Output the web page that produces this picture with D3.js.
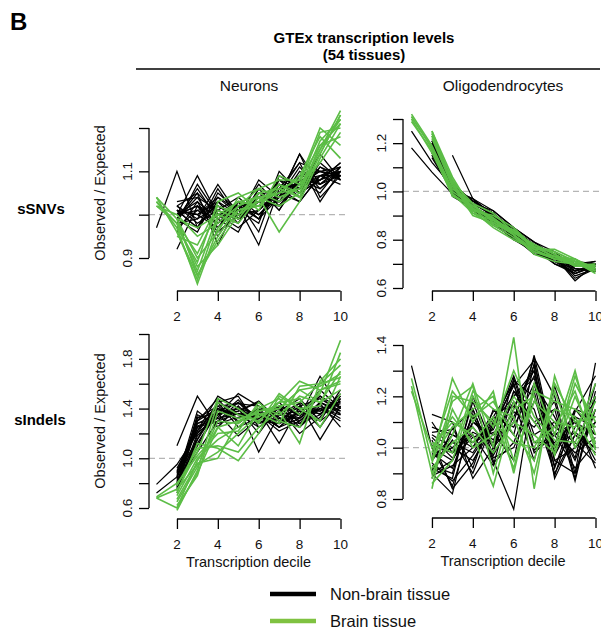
<!DOCTYPE html>
<html><head><meta charset="utf-8">
<script src="https://cdn.jsdelivr.net/npm/d3@7"></script>
<style>html,body{margin:0;padding:0;background:#fff;}svg{display:block;}</style>
</head><body>
<script>
const deciles = [1,2,3,4,5,6,7,8,9,10];
const xTickValues = [2,4,6,8,10];
const rowLabels = ["sSNVs","sIndels"];
const colLabels = ["Neurons","Oligodendrocytes"];
const legendLabels = ["Non-brain tissue","Brain tissue"];

// sSNVs, neurons
const snvNeuronsOther = [
[0.97,1.10,0.97,1.04,1.00,1.03,1.06,1.12,1.10,1.11],
[null,1.00,1.09,1.00,1.02,0.99,1.07,1.05,1.08,1.10],
[null,1.01,0.97,1.06,0.99,1.08,1.04,1.14,1.07,1.09],
[null,0.99,1.05,0.93,1.03,0.96,1.09,1.06,1.14,1.08],
[null,1.00,1.02,0.98,1.01,1.03,1.02,1.08,1.06,1.10],
[null,0.98,1.07,1.00,0.97,1.01,1.05,1.03,1.09,1.09],
[null,1.02,0.99,1.07,1.00,1.05,1.03,1.10,1.07,1.11],
[null,0.96,1.03,0.99,1.02,0.93,1.06,1.07,1.10,1.08],
[null,1.01,1.00,1.03,0.98,1.06,1.01,1.09,1.08,1.12],
[null,0.99,0.96,1.05,1.01,1.02,1.08,1.04,1.11,1.09],
[null,1.03,1.04,0.97,1.03,0.99,1.04,1.11,1.06,1.10],
[null,1.00,1.01,1.02,0.99,1.04,1.07,1.06,1.09,1.07],
[null,0.92,1.02,0.96,1.00,1.07,1.02,1.08,1.05,1.11],
[null,1.02,0.98,1.01,1.04,1.00,1.05,1.09,1.10,1.09],
[null,0.99,1.06,0.99,0.96,1.05,1.03,1.07,1.08,1.10],
[null,1.01,1.00,1.04,1.01,0.98,1.10,1.05,1.12,1.08],
[null,1.00,1.03,0.95,1.02,1.03,1.04,1.14,1.04,1.09],
[null,0.98,0.99,1.02,1.00,1.01,1.06,1.03,1.09,1.11],
[null,1.02,1.05,1.00,0.98,1.06,1.01,1.08,1.07,1.10],
[null,0.97,1.01,0.98,1.03,0.99,1.08,1.06,1.11,1.08],
[null,1.01,0.97,1.03,1.00,1.04,1.05,1.12,1.03,1.10],
[null,1.00,1.02,1.00,1.01,1.02,1.03,1.07,1.10,1.09],
[null,0.99,1.04,1.01,0.99,1.03,1.07,1.05,1.08,1.12],
[null,1.01,1.00,0.97,1.02,1.00,1.04,1.08,1.09,1.10]
];
const snvNeuronsBrain = [
[1.04,0.99,0.86,0.95,1.02,1.04,1.05,1.06,1.17,1.22],
[1.03,0.97,0.84,0.97,1.01,1.03,1.07,1.05,1.15,1.24],
[1.02,0.98,0.88,0.93,1.00,1.05,1.03,1.07,1.19,1.20],
[null,0.96,0.85,0.99,1.03,1.02,1.06,1.04,1.14,1.23],
[null,0.99,0.90,0.96,1.04,1.06,1.08,1.08,1.16,1.18],
[1.03,0.98,0.87,1.00,0.98,1.04,0.96,1.03,1.13,1.21],
[null,0.95,0.93,1.02,1.00,1.03,1.05,1.09,1.18,1.13],
[null,0.97,0.89,1.03,1.05,1.01,1.09,1.07,1.12,1.19],
[1.02,1.00,0.95,0.98,1.02,1.06,1.04,1.06,1.15,1.22],
[null,0.98,0.91,1.01,0.99,1.05,1.06,1.08,1.20,1.16],
[1.04,0.96,0.86,0.94,1.01,1.02,1.07,1.04,1.14,1.23],
[null,0.99,0.97,1.00,1.03,1.04,1.02,1.05,1.16,1.21]
];
// sSNVs, oligodendrocytes
const snvOligoOther = [
[1.25,1.12,1.02,0.95,0.90,0.83,0.77,0.73,0.69,0.69],
[1.18,1.08,0.99,0.93,0.88,0.81,0.76,0.72,0.67,0.70],
[null,1.20,1.03,0.96,0.91,0.84,0.78,0.74,0.70,0.68],
[null,1.17,1.01,0.94,0.89,0.82,0.76,0.72,0.66,0.69],
[null,null,1.15,0.97,0.92,0.85,0.79,0.73,0.71,0.70],
[null,1.19,1.04,0.95,0.90,0.83,0.77,0.71,0.68,0.67],
[null,1.15,1.00,0.92,0.87,0.80,0.75,0.73,0.64,0.68],
[null,1.21,1.02,0.96,0.91,0.82,0.78,0.74,0.69,0.71],
[null,1.16,0.99,0.94,0.88,0.84,0.76,0.70,0.67,0.69],
[null,1.18,1.03,0.93,0.90,0.81,0.74,0.72,0.70,0.68],
[null,1.20,1.01,0.97,0.89,0.83,0.77,0.73,0.63,0.70],
[null,1.14,1.00,0.95,0.92,0.85,0.79,0.75,0.68,0.67],
[null,1.19,1.04,0.94,0.87,0.82,0.75,0.71,0.66,0.69],
[null,1.17,1.02,0.96,0.90,0.80,0.77,0.72,0.71,0.68],
[null,1.21,0.98,0.93,0.89,0.84,0.78,0.74,0.67,0.70],
[null,1.16,1.03,0.95,0.91,0.83,0.76,0.71,0.69,0.69],
[null,1.18,1.01,0.92,0.88,0.82,0.74,0.73,0.65,0.68],
[null,1.20,1.00,0.97,0.90,0.85,0.77,0.72,0.70,0.71],
[null,1.15,1.02,0.94,0.86,0.81,0.75,0.74,0.68,0.67],
[null,1.19,0.99,0.96,0.91,0.83,0.78,0.70,0.66,0.70]
];
const snvOligoBrain = [
[1.31,1.18,1.00,0.94,0.88,0.84,0.77,0.73,0.71,0.68],
[1.30,1.16,0.99,0.93,0.89,0.82,0.76,0.72,0.72,0.67],
[1.32,1.19,1.01,0.95,0.87,0.83,0.78,0.74,0.70,0.69],
[null,1.25,1.06,0.92,0.90,0.85,0.77,0.75,0.71,0.68],
[null,1.24,1.04,0.91,0.86,0.81,0.75,0.73,0.69,0.70],
[null,1.23,1.05,0.93,0.88,0.84,0.76,0.76,0.72,0.67],
[null,1.25,1.03,0.90,0.87,0.82,0.74,0.71,0.70,0.68],
[1.29,1.17,0.98,0.94,0.89,0.83,0.78,0.74,0.69,0.69],
[null,1.22,1.02,0.92,0.85,0.80,0.76,0.72,0.71,0.66],
[null,1.24,1.04,0.95,0.91,0.83,0.77,0.73,0.72,0.68],
[1.31,1.18,0.99,0.91,0.88,0.82,0.75,0.72,0.70,0.67],
[null,1.23,1.03,0.93,0.86,0.84,0.77,0.75,0.71,0.69]
];
// sIndels, neurons
const indelNeuronsOther = [
[0.79,0.95,1.20,1.35,1.40,1.30,1.28,1.35,1.40,1.45],
[0.72,0.85,1.25,1.30,1.36,1.35,1.22,1.30,1.45,1.38],
[null,1.10,1.50,1.25,1.42,1.28,1.32,1.28,1.35,1.50],
[null,0.80,1.30,1.40,1.32,1.40,1.25,1.38,1.30,1.42],
[null,0.75,1.15,1.45,1.50,1.25,1.35,1.32,1.50,1.35],
[null,0.88,1.28,1.32,1.38,1.45,1.30,1.42,1.25,1.48],
[null,0.82,1.10,1.38,1.45,1.32,1.40,1.30,1.40,1.30],
[null,0.78,1.35,1.28,1.33,1.38,1.28,1.45,1.35,1.52],
[null,0.92,1.22,1.50,1.40,1.20,1.42,1.35,1.55,1.40],
[null,0.72,1.18,1.35,1.52,1.42,1.33,1.25,1.45,1.36],
[null,0.85,1.32,1.42,1.30,1.35,1.25,1.40,1.38,1.44],
[null,0.80,1.05,1.30,1.45,1.28,1.38,1.48,1.30,1.55],
[null,0.90,1.28,1.36,1.38,1.46,1.30,1.33,1.66,1.40],
[null,0.76,1.20,1.45,1.25,1.33,1.45,1.28,1.42,1.32],
[null,0.83,1.38,1.25,1.42,1.05,1.35,1.38,1.36,1.46],
[null,0.87,1.15,1.40,1.35,1.38,1.12,1.42,1.48,1.38],
[null,0.79,1.25,1.33,1.47,1.30,1.40,1.20,1.33,1.50],
[null,0.74,1.30,1.48,1.28,1.40,1.36,1.44,1.15,1.42],
[null,0.86,1.12,1.38,1.40,1.36,1.25,1.32,1.44,1.25],
[null,0.81,1.26,1.32,1.36,1.25,1.38,1.40,1.38,1.48],
[null,0.89,1.22,1.42,1.44,1.42,1.30,1.36,1.50,1.40],
[null,0.77,1.33,1.36,1.18,1.32,1.42,1.25,1.40,1.35]
];
const indelNeuronsBrain = [
[0.68,0.75,0.95,1.05,1.20,1.35,1.40,1.55,1.45,1.70],
[0.68,0.60,0.88,1.25,1.30,1.38,1.42,1.45,1.60,1.65],
[null,0.70,1.00,1.15,1.25,1.40,1.48,1.35,1.52,1.95],
[null,0.58,0.90,1.45,1.35,1.30,1.45,1.62,1.55,1.60],
[null,0.78,1.08,1.10,1.05,1.25,1.38,1.12,1.62,1.80],
[null,0.65,0.93,1.30,1.28,1.42,1.35,1.50,1.45,1.55],
[null,0.72,1.12,1.08,0.98,1.20,1.50,1.40,1.30,1.66],
[null,0.62,0.86,1.38,1.32,1.36,1.28,1.58,1.60,1.75],
[0.69,0.80,1.02,1.20,1.22,1.45,1.30,1.25,1.55,1.62],
[null,0.67,0.96,1.00,1.30,1.33,1.45,1.48,1.25,1.52],
[null,0.74,1.05,1.48,1.40,1.28,1.52,1.40,1.42,1.85],
[null,0.60,0.98,1.25,1.10,1.38,1.40,1.55,1.58,1.68]
];
// sIndels, oligodendrocytes
const indelOligoOther = [
[1.32,1.00,0.95,1.10,1.05,1.20,1.30,0.95,1.00,1.10],
[null,0.95,1.05,1.00,1.12,1.25,0.98,1.05,1.10,0.95],
[null,1.13,1.10,0.88,1.00,1.10,1.35,1.20,0.90,1.33],
[null,0.90,0.82,1.15,0.95,0.76,1.25,0.92,1.15,1.05],
[null,1.05,1.00,0.95,1.08,1.28,1.05,1.10,0.95,1.15],
[null,0.92,0.88,1.20,1.00,1.15,1.32,0.88,1.05,1.00],
[null,1.10,0.98,1.05,0.93,1.22,1.10,1.15,0.87,1.20],
[null,0.88,1.08,0.92,1.15,1.05,1.36,1.00,1.12,0.92],
[null,1.00,0.85,1.10,1.03,1.18,0.95,1.24,1.00,1.10],
[null,0.97,1.02,0.98,1.10,1.26,1.20,0.93,1.08,1.18],
[null,0.93,0.90,1.18,0.97,1.12,1.28,1.05,0.92,1.02],
[null,1.08,1.05,1.02,1.06,0.95,1.33,0.98,1.15,1.12],
[null,0.90,0.95,1.12,1.00,1.22,1.15,0.90,1.05,0.98],
[null,1.03,0.84,0.94,1.12,1.08,1.25,1.12,0.96,1.25],
[null,0.96,1.00,1.08,0.98,1.27,1.02,1.02,1.10,1.05],
[null,0.89,0.93,1.00,1.14,1.16,1.30,0.95,0.90,1.15],
[null,1.06,1.07,1.15,0.96,1.00,1.18,1.08,1.02,0.94],
[null,0.94,0.87,0.97,1.09,1.24,1.34,0.97,1.12,1.08],
[null,1.01,0.98,1.06,1.02,1.14,1.08,1.18,0.88,1.22],
[null,0.91,1.03,0.90,1.10,1.20,1.27,1.00,1.06,1.00],
[null,0.98,0.92,1.13,0.94,1.02,1.22,0.89,1.14,1.28],
[null,1.04,0.96,1.04,1.07,1.25,0.99,1.06,0.98,1.04]
];
const indelOligoBrain = [
[1.27,0.95,1.27,1.10,1.22,0.90,1.25,1.05,1.30,1.00],
[1.24,0.90,1.05,1.25,1.00,1.43,0.84,1.28,1.05,1.25],
[1.22,1.00,1.10,1.05,0.85,1.15,1.20,0.97,1.25,1.10],
[null,0.84,1.20,1.18,1.10,1.02,1.00,1.15,1.12,0.97],
[null,1.02,0.98,1.22,1.15,1.12,0.90,1.22,1.00,1.15],
[null,0.88,1.15,1.00,1.05,1.20,1.10,1.00,1.28,1.05],
[null,0.96,1.08,1.15,1.20,0.95,1.18,1.10,1.08,1.20],
[null,0.92,1.02,1.08,0.98,1.10,1.05,0.98,1.20,1.02],
[null,0.98,1.22,1.12,1.18,1.05,0.95,1.25,1.10,1.12],
[null,0.86,0.95,1.20,1.08,1.30,1.12,1.03,1.02,1.18],
[null,1.00,1.12,1.02,1.12,0.92,1.22,1.18,1.15,1.08],
[null,0.94,1.18,1.24,0.90,1.18,1.02,1.08,1.22,0.99]
];

const FONT = "'Liberation Sans', Arial, Helvetica, sans-serif";
const BLACK = "#000000", GREEN = "#5cbd46", LEGEND_GREEN = "#7fc241";

const svg = d3.select("body").append("svg").attr("width",601).attr("height",630)
  .style("font-family", FONT);

const panels = [
  {other: snvNeuronsOther, brain: snvNeuronsBrain, xr:[156.5,340.5], axisX:149, plotR:348,
   yd:[0.9,1.2], yr:[258,128], ticks:[0.9,1.0,1.1,1.2], labels:[0.9,1.1], xAxisY:291, yTitle:true},
  {other: snvOligoOther, brain: snvOligoBrain, xr:[411.5,595.5], axisX:403, plotR:603,
   yd:[0.6,1.3], yr:[288,119], ticks:[0.6,0.7,0.8,0.9,1.0,1.1,1.2,1.3], labels:[0.6,0.8,1.0,1.2], xAxisY:291, yTitle:false},
  {other: indelNeuronsOther, brain: indelNeuronsBrain, xr:[156.5,340.5], axisX:149, plotR:348,
   yd:[0.6,2.0], yr:[508,334], ticks:[0.6,0.8,1.0,1.2,1.4,1.6,1.8,2.0], labels:[0.6,1.0,1.4,1.8], xAxisY:519, yTitle:true, xTitle:true},
  {other: indelOligoOther, brain: indelOligoBrain, xr:[411.5,595.5], axisX:403, plotR:603,
   yd:[0.8,1.4], yr:[499,345], ticks:[0.8,0.9,1.0,1.1,1.2,1.3,1.4], labels:[0.8,1.0,1.2,1.4], xAxisY:518, yTitle:false, xTitle:true}
];

panels.forEach(p => {
  const x = d3.scaleLinear().domain([1,10]).range(p.xr);
  const y = d3.scaleLinear().domain(p.yd).range(p.yr);
  const g = svg.append("g");

  g.append("line").attr("x1",p.axisX).attr("x2",p.plotR).attr("y1",y(1)).attr("y2",y(1))
    .attr("stroke","#b5b5b5").attr("stroke-width",1.3).attr("stroke-dasharray","6,4");

  const line = d3.line().defined(d => d != null).x((d,i) => x(deciles[i])).y(d => y(d));
  g.selectAll(".other").data(p.other).join("path").attr("d", line)
    .attr("fill","none").attr("stroke",BLACK).attr("stroke-width",1.25);
  g.selectAll(".brain").data(p.brain).join("path").attr("d", line)
    .attr("fill","none").attr("stroke",GREEN).attr("stroke-width",1.6);

  const yAxis = d3.axisLeft(y).tickValues(p.ticks).tickSize(10).tickSizeOuter(0).tickFormat("");
  const ya = g.append("g").attr("transform",`translate(${p.axisX},0)`).call(yAxis);
  ya.selectAll("path,line").attr("stroke","#000").attr("stroke-width",1.3);
  ya.select(".domain").attr("d", `M0,${y(p.ticks[0])}V${y(p.ticks[p.ticks.length-1])}`);
  p.labels.forEach(v => {
    g.append("text").attr("transform",`translate(${p.axisX-17},${y(v)}) rotate(-90)`)
      .attr("text-anchor","middle").attr("font-size",13.5).attr("fill","#111").text(d3.format(".1f")(v));
  });

  const xAxis = d3.axisBottom(x).tickValues(xTickValues).tickSize(10).tickSizeOuter(0).tickFormat("");
  const xa = g.append("g").attr("transform",`translate(0,${p.xAxisY})`).call(xAxis);
  xa.selectAll("path,line").attr("stroke","#000").attr("stroke-width",1.3);
  xa.select(".domain").attr("d", `M${x(2)},0H${x(10)}`);
  xTickValues.forEach(v => {
    g.append("text").attr("x",x(v)).attr("y",p.xAxisY+30).attr("text-anchor","middle")
      .attr("font-size",13.5).attr("fill","#111").text(v);
  });

  if (p.yTitle) {
    const mid = (p.yr[0]+p.yr[1])/2;
    g.append("text").attr("transform",`translate(105,${mid}) rotate(-90)`)
      .attr("text-anchor","middle").attr("font-size",14.5).attr("fill","#111").text("Observed / Expected");
  }
  if (p.xTitle) {
    g.append("text").attr("x",(p.axisX+p.plotR)/2).attr("y",p.xAxisY+48).attr("text-anchor","middle")
      .attr("font-size",14.5).attr("fill","#111").text("Transcription decile");
  }
});

svg.append("text").attr("x",10).attr("y",30).attr("font-size",24).attr("font-weight","bold").text("B");
svg.append("text").attr("x",364).attr("y",43).attr("text-anchor","middle").attr("font-size",15)
  .attr("font-weight","bold").text("GTEx transcription levels");
svg.append("text").attr("x",364).attr("y",60).attr("text-anchor","middle").attr("font-size",15)
  .attr("font-weight","bold").text("(54 tissues)");
svg.append("line").attr("x1",136).attr("x2",600).attr("y1",69).attr("y2",69).attr("stroke","#000").attr("stroke-width",1.5);
svg.append("text").attr("x",249).attr("y",91).attr("text-anchor","middle").attr("font-size",15.5).attr("fill","#111").text(colLabels[0]);
svg.append("text").attr("x",503).attr("y",91).attr("text-anchor","middle").attr("font-size",15.5).attr("fill","#111").text(colLabels[1]);

svg.append("text").attr("x",41).attr("y",214).attr("text-anchor","middle").attr("font-size",15)
  .attr("font-weight","bold").text(rowLabels[0]);
svg.append("text").attr("x",40).attr("y",425).attr("text-anchor","middle").attr("font-size",15)
  .attr("font-weight","bold").text(rowLabels[1]);

const legColors = [BLACK, LEGEND_GREEN];
const legY = [594, 621];
legendLabels.forEach((t,i) => {
  svg.append("line").attr("x1",270).attr("x2",316).attr("y1",legY[i]).attr("y2",legY[i])
    .attr("stroke",legColors[i]).attr("stroke-width",4.5);
  svg.append("text").attr("x",330).attr("y",legY[i]+6).attr("font-size",16.5).attr("fill","#111").text(t);
});
</script>
</body></html>
